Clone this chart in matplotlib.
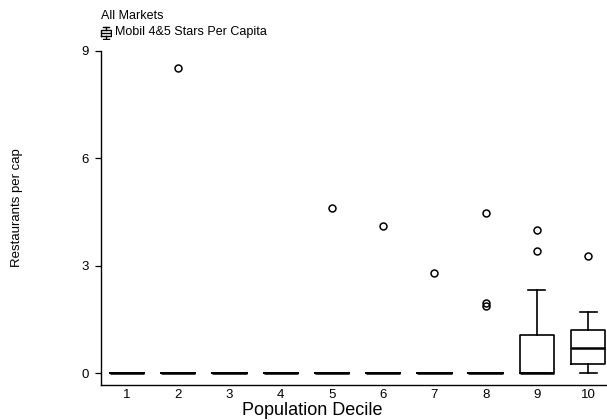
import matplotlib.pyplot as plt

plt.rcParams['font.family'] = ['Liberation Sans', 'DejaVu Sans']

# Box summaries per population decile
deciles = [1, 2, 3, 4, 5, 6, 7, 8, 9, 10]
q1 = [0, 0, 0, 0, 0, 0, 0, 0, 0, 0.27]
med = [0, 0, 0, 0, 0, 0, 0, 0, 0, 0.71]
q3 = [0, 0, 0, 0, 0, 0, 0, 0, 1.06, 1.20]
whislo = [0, 0, 0, 0, 0, 0, 0, 0, 0, 0]
whishi = [0, 0, 0, 0, 0, 0, 0, 0, 2.31, 1.70]
outliers = [[], [8.53], [], [], [4.62], [4.11], [2.79],
            [4.48, 1.96, 1.88], [4.01, 3.42], [3.28]]

stats = []
for i in range(len(deciles)):
    stats.append(dict(q1=q1[i], med=med[i], q3=q3[i], whislo=whislo[i],
                      whishi=whishi[i], fliers=outliers[i], label=str(deciles[i])))

fig = plt.figure(figsize=(6.07, 4.20), dpi=100)
ax = fig.add_axes([101 / 607, 1 - 385 / 420, 506 / 607, 334 / 420])

lw = 1.2
ax.bxp(stats, positions=deciles, widths=0.67, capwidths=0.33,
       boxprops=dict(color='black', linewidth=lw),
       whiskerprops=dict(color='black', linewidth=lw),
       capprops=dict(color='black', linewidth=lw),
       medianprops=dict(color='black', linewidth=1.8),
       flierprops=dict(marker='o', markersize=5, markerfacecolor='none',
                       markeredgecolor='black', markeredgewidth=1.1))

ax.set_xlim(0.49, 10.37)
ax.set_ylim(-0.33, 9)
ax.set_yticks([0, 3, 6, 9])
ax.set_yticklabels(['0', '3', '6', '9'])
ax.tick_params(axis='y', direction='out', length=4.5, width=0.9, pad=4.5, labelsize=9.5)
ax.tick_params(axis='x', length=0, pad=3, labelsize=9.5)
for s in ['top', 'right']:
    ax.spines[s].set_visible(False)
for s in ['left', 'bottom']:
    ax.spines[s].set_linewidth(1.0)

fig.text(312 / 607, 1 - 415 / 420, 'Population Decile', ha='center', va='baseline', fontsize=13)
fig.text(17 / 607, 1 - 208 / 420, 'Restaurants per cap', ha='center', va='center',
         rotation=90, fontsize=9.5)

# Header and legend key
fig.text(101 / 607, 1 - 19 / 420, 'All Markets', ha='left', va='baseline', fontsize=9)
fig.text(115 / 607, 1 - 35 / 420, 'Mobil 4&5 Stars Per Capita', ha='left', va='baseline', fontsize=9)

key = fig.add_axes([100 / 607, 1 - 40 / 420, 12 / 607, 14 / 420])
key.bxp([dict(q1=0.3, med=0.5, q3=0.7, whislo=0.05, whishi=0.95, fliers=[])],
        positions=[0.5], widths=0.85, capwidths=0.55, showfliers=False,
        boxprops=dict(color='black', linewidth=1.0),
        whiskerprops=dict(color='black', linewidth=1.0),
        capprops=dict(color='black', linewidth=1.0),
        medianprops=dict(color='black', linewidth=1.0))
key.set_xlim(0, 1)
key.set_ylim(0, 1)
key.axis('off')

fig.savefig('out.png', dpi=100)
